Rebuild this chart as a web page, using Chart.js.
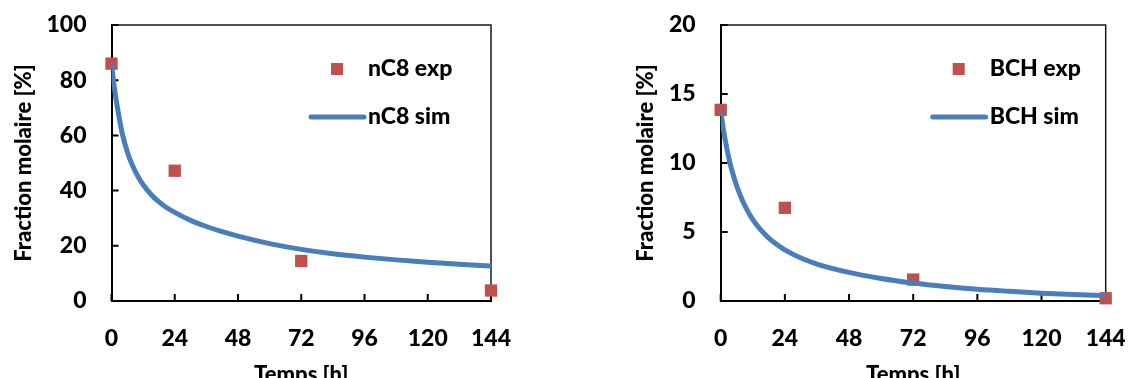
<!DOCTYPE html>
<html>
<head>
<meta charset="utf-8">
<script src="https://cdn.jsdelivr.net/npm/chart.js@4"></script>
<style>
  html, body { margin: 0; padding: 0; background: #fff; overflow: hidden; }
  #wrap { position: relative; width: 1128px; height: 378px; }
  canvas { position: absolute; top: 0; }
  #c1 { left: 0; }
  #c2 { left: 564px; }
</style>
</head>
<body>
<div id="wrap">
  <canvas id="c1" width="564" height="378"></canvas>
  <canvas id="c2" width="564" height="378"></canvas>
</div>
<script>
// measured points
const expTimes = [0, 24, 72, 144];
const nc8Exp = [86, 47.2, 14.5, 3.8];
const bchExp = [13.85, 6.75, 1.55, 0.2];

// simulated curves
const nc8SimTimes = [0, 1, 2, 3, 4, 6, 8, 10, 12, 15, 18, 21, 24, 30, 36, 42, 48, 60, 72, 84, 96, 108, 120, 132, 144];
const nc8Sim = [86, 78, 71.5, 66, 61, 54, 49, 45.2, 42.1, 38.6, 35.9, 33.8, 32.1, 29.2, 27.0, 25.1, 23.5, 20.8, 18.7, 17.1, 15.9, 14.9, 14.0, 13.3, 12.7];
const bchSimTimes = [0, 1, 2, 3, 4, 6, 8, 10, 12, 15, 18, 21, 24, 30, 36, 48, 60, 72, 84, 96, 108, 120, 132, 144];
const bchSim = [13.8, 12.45, 11.35, 10.4, 9.6, 8.33, 7.34, 6.55, 5.9, 5.15, 4.56, 4.09, 3.7, 3.11, 2.68, 2.07, 1.63, 1.3, 1.05, 0.85, 0.7, 0.57, 0.47, 0.4];

const xTickStep = 24;
const xMax = 144;

const RED = '#C0504D';
const BLUE = '#4A7EBB';
const TICK_FONT = { family: 'Lato', weight: 900, size: 23 };
const TITLE_FONT = { family: 'Lato', weight: 900, size: 22 };

const toXY = (xs, ys) => xs.map((x, i) => ({ x: x, y: ys[i] }));

// box with inward tick marks
const framePlugin = {
  id: 'frame',
  beforeDatasetsDraw(chart) {
    const { ctx, chartArea: a, scales } = chart;
    ctx.save();
    ctx.strokeStyle = '#1a1a1a';
    ctx.lineWidth = 1.5;
    ctx.beginPath();
    ctx.moveTo(a.left, a.top);
    ctx.lineTo(a.right, a.top);
    ctx.lineTo(a.right, a.bottom);
    ctx.stroke();
    ctx.strokeStyle = '#000';
    ctx.lineWidth = 2;
    ctx.beginPath();
    scales.x.ticks.forEach((t, i) => {
      const px = scales.x.getPixelForTick(i);
      ctx.moveTo(px, a.bottom);
      ctx.lineTo(px, a.bottom - 7);
    });
    scales.y.ticks.forEach((t, i) => {
      const py = scales.y.getPixelForTick(i);
      ctx.moveTo(a.left, py);
      ctx.lineTo(a.left + 7, py);
    });
    ctx.stroke();
    ctx.restore();
  }
};

// legend inside the plot, like the original
const boxLegend = {
  id: 'boxLegend',
  afterDraw(chart, args, opts) {
    const { ctx, chartArea: a } = chart;
    const tx = a.right - opts.fromRight;
    const y1 = a.top + 44;
    const y2 = a.top + 92;
    ctx.save();
    ctx.fillStyle = RED;
    ctx.fillRect(tx - 31 - 6, y1 - 6, 12, 12);
    ctx.strokeStyle = BLUE;
    ctx.lineWidth = 5;
    ctx.lineCap = 'round';
    ctx.beginPath();
    ctx.moveTo(tx - 57, y2);
    ctx.lineTo(tx - 4, y2);
    ctx.stroke();
    ctx.fillStyle = '#000';
    ctx.font = '900 23px Lato';
    ctx.textBaseline = 'middle';
    ctx.textAlign = 'left';
    ctx.fillText(opts.labels[0], tx, y1);
    ctx.fillText(opts.labels[1], tx, y2);
    ctx.restore();
  }
};

function makeChart(id, simT, sim, exp, yMax, yStep, labels, pad, yWidth, titlePad, legendFromRight) {
  return new Chart(document.getElementById(id), {
    type: 'scatter',
    data: {
      datasets: [
        {
          label: labels[1],
          data: toXY(simT, sim),
          showLine: true,
          borderColor: BLUE,
          borderWidth: 5,
          pointRadius: 0,
          cubicInterpolationMode: 'monotone',
          order: 0
        },
        {
          label: labels[0],
          data: toXY(expTimes, exp),
          pointStyle: 'rect',
          pointRadius: 8.7,
          pointBackgroundColor: RED,
          pointBorderWidth: 0,
          clip: false,
          order: 1
        }
      ]
    },
    options: {
      responsive: false,
      animation: false,
      layout: { padding: pad },
      plugins: {
        legend: { display: false },
        tooltip: { enabled: false },
        boxLegend: { fromRight: legendFromRight, labels: labels }
      },
      scales: {
        x: {
          type: 'linear',
          min: 0,
          max: xMax,
          grid: { display: false, drawTicks: false },
          border: { display: true, color: '#000', width: 2 },
          ticks: { stepSize: xTickStep, color: '#000', font: TICK_FONT, padding: 24, maxRotation: 0 },
          title: { display: true, text: 'Temps [h]', color: '#000', font: TITLE_FONT, padding: { top: 0, bottom: -10 } },
          afterFit: s => { s.height = 77; s.paddingLeft = 0; s.paddingRight = 0; }
        },
        y: {
          min: 0,
          max: yMax,
          grid: { display: false, drawTicks: false },
          border: { display: true, color: '#000', width: 2 },
          ticks: { stepSize: yStep, color: '#000', font: TICK_FONT, padding: 25 },
          title: { display: true, text: 'Fraction molaire [%]', color: '#000', font: TITLE_FONT, padding: { top: titlePad, bottom: 0 } },
          afterFit: s => { s.width = yWidth; s.paddingTop = 0; s.paddingBottom = 0; }
        }
      }
    },
    plugins: [framePlugin, boxLegend]
  });
}

makeChart('c1', nc8SimTimes, nc8Sim, nc8Exp, 100, 20, ['nC8 exp', 'nC8 sim'],
  { left: 0, top: 25, right: 73, bottom: 0 }, 111.5, 11, 123);
makeChart('c2', bchSimTimes, bchSim, bchExp, 20, 5, ['BCH exp', 'BCH sim'],
  { left: 60, top: 25, right: 22.3, bottom: 0 }, 96.7, 9, 116);
</script>
</body>
</html>
